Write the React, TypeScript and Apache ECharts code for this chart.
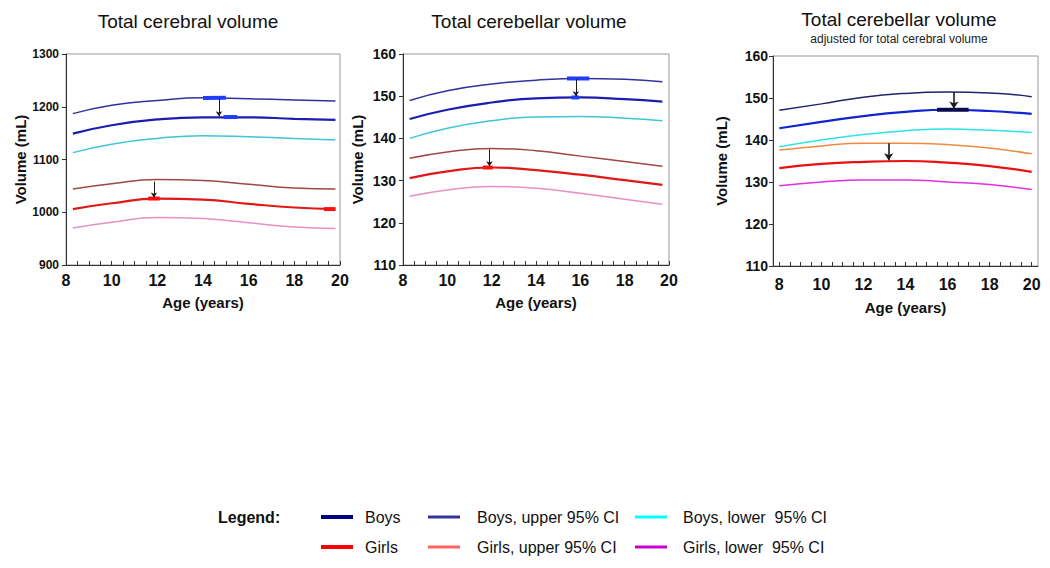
import { useEffect, useRef } from "react";
import * as echarts from "echarts";

const FONT = "'Liberation Sans', Arial, Helvetica, sans-serif";

// ---------- names ----------
const seriesNames = [
  "Boys",
  "Boys, upper 95% CI",
  "Boys, lower  95% CI",
  "Girls",
  "Girls, upper 95% CI",
  "Girls, lower  95% CI",
];
const panelTitles = ["Total cerebral volume", "Total cerebellar volume", "Total cerebellar volume"];
const panelSubtitle = "adjusted for total cerebral volume";
const yAxisName = "Volume (mL)";
const xAxisName = "Age (years)";
const legendTitle = "Legend:";

// ---------- Panel 1: total cerebral volume ----------
const cerebralAges = [8.3, 10, 12, 14, 16, 18, 19.8];
const cerebralBoys = [1149, 1165, 1176, 1180, 1180, 1177, 1175];
const cerebralBoysUpper = [1187, 1203, 1212, 1217, 1215, 1213, 1211];
const cerebralBoysLower = [1113, 1129, 1140, 1145, 1143, 1140, 1137];
const cerebralGirls = [1006, 1017, 1026, 1024, 1016, 1009, 1006];
const cerebralGirlsUpper = [1044, 1054, 1062, 1060, 1053, 1046, 1044];
const cerebralGirlsLower = [970, 981, 990, 988, 980, 972, 969];
const cerebralYTicks = { min: 900, max: 1300, interval: 100 };
// highlighted stretches: [ageFrom, valueFrom, ageTo, valueTo]
const cerebralBoysMarks = [
  [14.0, 1216.5, 15.0, 1217],
  [14.9, 1180.5, 15.5, 1180.5],
];
const cerebralGirlsMarks = [
  [11.6, 1026, 12.1, 1026],
  [19.3, 1006, 19.8, 1006],
];
// arrows: [age, from, to]
const cerebralArrows = [
  [14.7, 1215, 1182],
  [11.85, 1058, 1028],
];

// ---------- Panel 2: total cerebellar volume ----------
const cerebellarAges = [8.3, 10, 12, 14, 16, 18, 19.7];
const cerebellarBoys = [144.6, 146.8, 148.5, 149.5, 149.7, 149.3, 148.7];
const cerebellarBoysUpper = [149.0, 151.3, 152.9, 153.8, 154.2, 154.0, 153.4];
const cerebellarBoysLower = [140.0, 142.4, 144.2, 145.1, 145.2, 144.8, 144.2];
const cerebellarGirls = [130.6, 132.2, 133.1, 132.5, 131.4, 130.1, 129.0];
const cerebellarGirlsUpper = [135.3, 136.8, 137.6, 137.1, 135.8, 134.5, 133.4];
const cerebellarGirlsLower = [126.3, 127.8, 128.6, 128.2, 127.0, 125.6, 124.4];
const cerebellarYTicks = { min: 110, max: 160, interval: 10 };
const cerebellarBoysMarks = [
  [15.4, 154.2, 16.4, 154.2],
  [15.6, 149.7, 15.95, 149.7],
];
const cerebellarGirlsMarks = [[11.6, 133.1, 12.05, 133.1]];
const cerebellarArrows = [
  [15.8, 154.0, 150.0],
  [11.9, 137.4, 133.4],
];

// ---------- Panel 3: adjusted cerebellar volume ----------
const adjustedAges = [8, 10, 12, 14, 16, 18, 20];
const adjustedBoys = [142.8, 144.3, 145.7, 146.7, 147.2, 146.9, 146.2];
const adjustedBoysUpper = [147.1, 148.6, 150.2, 151.1, 151.4, 151.2, 150.3];
const adjustedBoysLower = [138.4, 140.0, 141.3, 142.2, 142.6, 142.3, 141.8];
const adjustedGirls = [133.3, 134.3, 134.8, 135.0, 134.6, 133.8, 132.4];
const adjustedGirlsUpper = [137.6, 138.6, 139.2, 139.2, 138.9, 138.1, 136.7];
const adjustedGirlsLower = [129.1, 130.0, 130.5, 130.5, 130.0, 129.4, 128.2];
const adjustedYTicks = { min: 110, max: 160, interval: 10 };
const adjustedXLabels = [8, 10, 12, 14, 16, 18, 20];
const adjustedXTicks = [8, 8.5, 9, 9.5, 10, 10.5, 11, 11.5, 12, 12.5, 13, 13.5, 14, 14.5, 15, 15.5, 16, 16.5, 17, 17.5, 18, 18.5, 19, 19.5, 20];
const adjustedBoysMarks = [[15.5, 147.2, 17.0, 147.2]];
const adjustedGirlsMarks: number[][] = [];
const adjustedArrows = [
  [16.3, 151.4, 147.5],
  [13.2, 139.2, 135.2],
];

// ---------- styles ----------
const coloursA = ["#1c1cb0", "#32329e", "#3cc6d6", "#e01818", "#a04646", "#e690c6"];
const coloursB = ["#1024d0", "#23236a", "#2ee2ea", "#e81010", "#f08a40", "#e030e0"];
const widths = [2.2, 1.5, 1.5, 2.2, 1.5, 1.5];
const legendColours = ["#000080", "#333399", "#00ffff", "#ff0000", "#ff6060", "#cc00cc"];
const legendWidths = [4, 3, 3, 4, 3, 3];

type Panel = {
  ages: number[];
  rows: number[][]; // order matches seriesNames
  colours: string[];
  boysMarks: number[][];
  girlsMarks: number[][];
  arrows: number[][];
  markColours: [string, string];
  arrowWidth: number;
};

const panels: Panel[] = [
  {
    ages: cerebralAges,
    rows: [cerebralBoys, cerebralBoysUpper, cerebralBoysLower, cerebralGirls, cerebralGirlsUpper, cerebralGirlsLower],
    colours: coloursA,
    boysMarks: cerebralBoysMarks,
    girlsMarks: cerebralGirlsMarks,
    arrows: cerebralArrows,
    markColours: ["#1f3cff", "#ff1010"],
    arrowWidth: 1,
  },
  {
    ages: cerebellarAges,
    rows: [cerebellarBoys, cerebellarBoysUpper, cerebellarBoysLower, cerebellarGirls, cerebellarGirlsUpper, cerebellarGirlsLower],
    colours: coloursA,
    boysMarks: cerebellarBoysMarks,
    girlsMarks: cerebellarGirlsMarks,
    arrows: cerebellarArrows,
    markColours: ["#1f3cff", "#ff1010"],
    arrowWidth: 1,
  },
  {
    ages: adjustedAges,
    rows: [adjustedBoys, adjustedBoysUpper, adjustedBoysLower, adjustedGirls, adjustedGirlsUpper, adjustedGirlsLower],
    colours: coloursB,
    boysMarks: adjustedBoysMarks,
    girlsMarks: adjustedGirlsMarks,
    arrows: adjustedArrows,
    markColours: ["#0a0a50", "#901010"],
    arrowWidth: 1.6,
  },
];

const grids = [
  { left: 66, top: 54, width: 274, height: 211 },
  { left: 403, top: 54, width: 266, height: 211 },
  { left: 773, top: 56, width: 265, height: 210 },
];

function buildOption() {
  const yTicks = [cerebralYTicks, cerebellarYTicks, adjustedYTicks];
  const yLabelSizes = [12, 14, 14];
  const yNameGaps = [38, 38, 44];

  const xAxis: any[] = grids.map((_, i) => {
    const base: any = {
      type: "value",
      gridIndex: i,
      name: xAxisName,
      nameLocation: "middle",
      nameGap: i === 2 ? 34 : 30,
      nameTextStyle: { fontFamily: FONT, fontWeight: "bold", fontSize: 15, color: "#111" },
      axisLine: { show: true, onZero: false, lineStyle: { color: "#333", width: 1 } },
      axisTick: { show: true, inside: true, length: 4, lineStyle: { color: "#333" } },
      splitLine: { show: false },
      axisLabel: { fontFamily: FONT, fontWeight: "bold", fontSize: 16, color: "#111", margin: 7 },
    };
    if (i < 2) {
      base.min = 8;
      base.max = 20;
      base.interval = 2;
      base.minorTick = { show: true, splitNumber: 4, length: 4, lineStyle: { color: "#333" } };
    } else {
      base.min = 7.7;
      base.max = 20.3;
      base.axisLabel = { ...base.axisLabel, customValues: adjustedXLabels, margin: 10 };
      base.axisTick = { ...base.axisTick, customValues: adjustedXTicks };
    }
    return base;
  });

  const yAxis: any[] = grids.map((_, i) => ({
    type: "value",
    gridIndex: i,
    min: yTicks[i].min,
    max: yTicks[i].max,
    interval: yTicks[i].interval,
    name: yAxisName,
    nameLocation: "middle",
    nameRotate: 90,
    nameGap: yNameGaps[i],
    nameTextStyle: { fontFamily: FONT, fontWeight: "bold", fontSize: 15, color: "#111" },
    axisLine: { show: true, lineStyle: { color: "#333", width: 1 } },
    axisTick: { show: true, inside: false, length: 4, lineStyle: { color: "#333" } },
    splitLine: { show: false },
    axisLabel: {
      fontFamily: FONT,
      fontWeight: "bold",
      fontSize: yLabelSizes[i],
      color: "#111",
      margin: i === 2 ? 5 : 7,
      formatter: (v: number) => String(v),
    },
  }));

  const series: any[] = [];
  panels.forEach((p, pi) => {
    p.rows.forEach((vals, si) => {
      series.push({
        type: "line",
        name: seriesNames[si],
        xAxisIndex: pi,
        yAxisIndex: pi,
        data: p.ages.map((a, k) => [a, vals[k]]),
        smooth: 0.5,
        showSymbol: false,
        symbol: "none",
        lineStyle: { color: p.colours[si], width: widths[si] },
        z: 3,
      });
    });
    const marks = [
      ...p.boysMarks.map((m) => ({ m, c: p.markColours[0] })),
      ...p.girlsMarks.map((m) => ({ m, c: p.markColours[1] })),
    ];
    marks.forEach(({ m, c }) => {
      series.push({
        type: "line",
        xAxisIndex: pi,
        yAxisIndex: pi,
        data: [
          [m[0], m[1]],
          [m[2], m[3]],
        ],
        showSymbol: false,
        symbol: "none",
        lineStyle: { color: c, width: 4 },
        z: 4,
        silent: true,
      });
    });
    series.push({
      type: "line",
      xAxisIndex: pi,
      yAxisIndex: pi,
      data: [],
      silent: true,
      markLine: {
        silent: true,
        symbol: ["none", "arrow"],
        symbolSize: pi === 2 ? 7 : 5,
        label: { show: false },
        lineStyle: { color: "#1a1a1a", width: p.arrowWidth, type: "solid" },
        data: p.arrows.map((a) => [{ coord: [a[0], a[1]] }, { coord: [a[0], a[2]] }]),
      },
      z: 5,
    });
  });

  const graphic: any[] = [];
  const titleCentres = [188, 529, 899];
  const titleTops = [21, 21, 19];
  panelTitles.forEach((t, i) => {
    graphic.push({
      type: "text",
      x: titleCentres[i],
      y: titleTops[i],
      style: { text: t, font: `19px ${FONT}`, fill: "#111", textAlign: "center", textVerticalAlign: "middle" },
    });
  });
  graphic.push({
    type: "text",
    x: 899,
    y: 39,
    style: { text: panelSubtitle, font: `12px ${FONT}`, fill: "#222", textAlign: "center", textVerticalAlign: "middle" },
  });

  // legend
  const rowY = [517, 547];
  const swatchX = [321, 428, 635];
  const textX = [365, 477, 683];
  graphic.push({
    type: "text",
    x: 218,
    y: rowY[0],
    style: { text: legendTitle, font: `bold 16px ${FONT}`, fill: "#111", textAlign: "left", textVerticalAlign: "middle" },
  });
  const order = [
    [0, 1, 2],
    [3, 4, 5],
  ];
  order.forEach((row, r) => {
    row.forEach((si, c) => {
      graphic.push({
        type: "line",
        shape: { x1: swatchX[c], y1: rowY[r], x2: swatchX[c] + 32, y2: rowY[r] },
        style: { stroke: legendColours[si], lineWidth: legendWidths[si] },
      });
      graphic.push({
        type: "text",
        x: textX[c],
        y: rowY[r],
        style: { text: seriesNames[si], font: `16px ${FONT}`, fill: "#111", textAlign: "left", textVerticalAlign: "middle" },
      });
    });
  });

  return {
    animation: false,
    backgroundColor: "#ffffff",
    textStyle: { fontFamily: FONT },
    grid: grids.map((g) => ({ ...g, show: true, borderColor: "#9a9a9a", borderWidth: 1, backgroundColor: "transparent", containLabel: false })),
    xAxis,
    yAxis,
    series,
    graphic,
  };
}

export default function App() {
  const ref = useRef<HTMLDivElement>(null);
  useEffect(() => {
    if (!ref.current) return;
    const chart = echarts.init(ref.current, undefined, { renderer: "svg" });
    chart.setOption(buildOption() as any);
    return () => chart.dispose();
  }, []);
  return <div ref={ref} style={{ position: "absolute", left: 0, top: 0, width: 1050, height: 568 }} />;
}
